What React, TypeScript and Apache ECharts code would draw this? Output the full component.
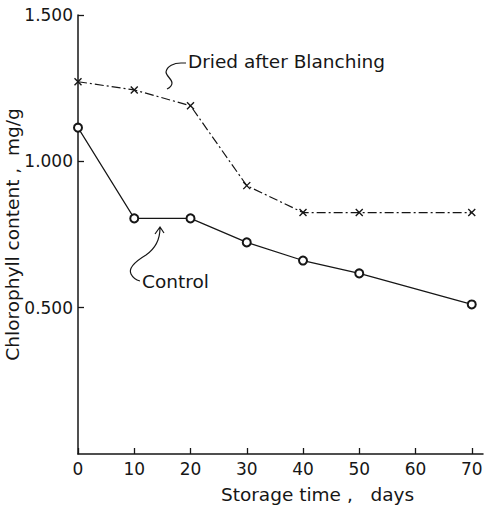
import React, { useEffect, useRef } from "react";
import * as echarts from "echarts";

const days = [0, 10, 20, 30, 40, 50, 70];
const driedAfterBlanching = [1.272, 1.244, 1.19, 0.917, 0.825, 0.825, 0.825];
const control = [1.115, 0.805, 0.805, 0.723, 0.661, 0.617, 0.511];
const xTicks = [0, 10, 20, 30, 40, 50, 60, 70];
const yTicks = [0.5, 1.0, 1.5];

const INK = "#161616";
const FONT = "DejaVu Sans";

echarts.graphic.registerShape(
  "brace",
  echarts.graphic.extendPath(
    "M186,63 L181,63 C174,63 167,66 166,72 C166,76 172,79 172,83 C172,86 169,88 167,89",
    {}
  )
);
echarts.graphic.registerShape(
  "ctrlArrow",
  echarts.graphic.extendPath(
    "M160,228 C160,240 156,248 146,255 C136,261 128,268 131,274 C133,278 136,280 140,281 M155,234 L160,227 L164,233",
    {}
  )
);

export default function App() {
  const ref = useRef<HTMLDivElement>(null);
  useEffect(() => {
    if (!ref.current) return;
    const chart = echarts.init(ref.current, undefined, { renderer: "svg" });
    chart.setOption({
      animation: false,
      backgroundColor: "#ffffff",
      grid: { left: 78, right: 15, top: 15, bottom: 56, containLabel: false, outerBoundsMode: "none" },
      xAxis: {
        type: "value",
        min: 0,
        max: 72,
        interval: 10,
        name: "Storage time ,   days",
        nameLocation: "middle",
        nameGap: 31,
        nameTextStyle: { color: INK, fontFamily: FONT, fontSize: 18.5, padding: [0, 0, 0, 74] },
        axisLine: { show: true, lineStyle: { color: INK, width: 1.5 } },
        axisTick: { show: true, inside: true, length: 6, customValues: xTicks, lineStyle: { color: INK, width: 1.3 } },
        axisLabel: { customValues: xTicks, color: INK, fontFamily: FONT, fontSize: 17, margin: 6 },
        splitLine: { show: false },
      },
      yAxis: {
        type: "value",
        min: 0,
        max: 1.5,
        interval: 0.5,
        name: "Chlorophyll content ,  mg/g",
        nameLocation: "middle",
        nameGap: 56,
        nameMoveOverlap: false,
        nameTextStyle: { color: INK, fontFamily: FONT, fontSize: 18.5 },
        axisLine: { show: true, lineStyle: { color: INK, width: 1.5 } },
        axisTick: { show: true, inside: true, length: 6, customValues: yTicks, lineStyle: { color: INK, width: 1.3 } },
        axisLabel: {
          customValues: yTicks,
          color: INK,
          fontFamily: FONT,
          fontSize: 17,
          margin: 5,
          formatter: (v: number) => v.toFixed(3),
        },
        splitLine: { show: false },
      },
      series: [
        {
          name: "Dried after Blanching",
          type: "line",
          data: days.map((d, i) => [d, driedAfterBlanching[i]]),
          symbol: "path://M0,0L10,10M10,0L0,10",
          symbolSize: 7,
          itemStyle: { color: "transparent", borderColor: INK, borderWidth: 1.4 },
          lineStyle: { color: INK, width: 1.2, type: [9, 3, 2, 3] },
        },
        {
          name: "Control",
          type: "line",
          data: days.map((d, i) => [d, control[i]]),
          symbol: "emptyCircle",
          symbolSize: 8,
          itemStyle: { color: INK, borderColor: INK, borderWidth: 1.2 },
          lineStyle: { color: INK, width: 1.2 },
        },
      ],
      graphic: [
        {
          type: "text",
          left: 188,
          top: 52,
          style: { text: "Dried after Blanching", font: `18.5px '${FONT}'`, fill: INK },
        },
        {
          type: "brace",
          x: 0,
          y: 0,
          style: { fill: "none", stroke: INK, lineWidth: 1.2 },
        },
        {
          type: "text",
          left: 142,
          top: 272,
          style: { text: "Control", font: `18.5px '${FONT}'`, fill: INK },
        },
        {
          type: "ctrlArrow",
          x: 0,
          y: 0,
          style: { fill: "none", stroke: INK, lineWidth: 1.2 },
        },
      ],
    });
    return () => chart.dispose();
  }, []);
  return (
    <div
      ref={ref}
      style={{ position: "fixed", left: 0, top: 0, width: 498, height: 510, background: "#fff" }}
    />
  );
}
